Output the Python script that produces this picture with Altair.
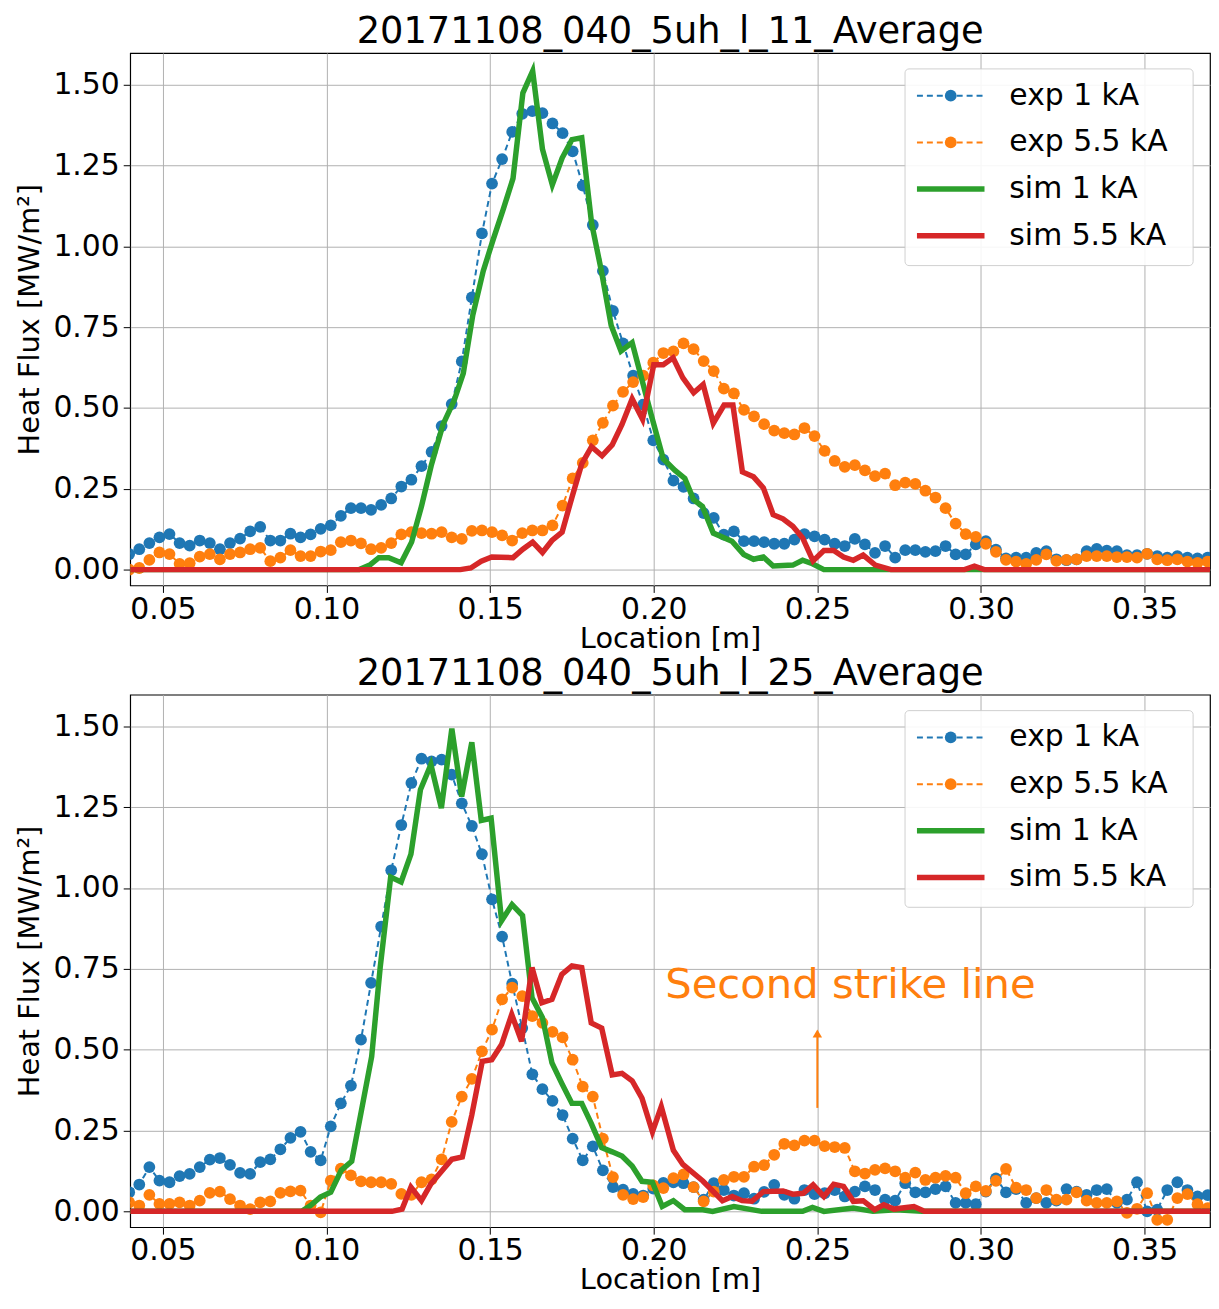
import altair as alt
import pandas as pd

# experimental sampling grid (m)
x0, dx = 0.0397, 0.00308

# ---- panel 1: 20171108_040_5uh_l_11_Average ----
exp1_top = [0.048, 0.063, 0.082, 0.10, 0.11, 0.082, 0.074, 0.09, 0.082, 0.063, 0.082, 0.096, 0.118, 0.132,
            0.09, 0.09, 0.111, 0.10, 0.109, 0.126, 0.137, 0.166, 0.19, 0.19, 0.185, 0.20, 0.22, 0.257, 0.278,
            0.32, 0.364, 0.444, 0.512, 0.644, 0.842, 1.04, 1.194, 1.27, 1.354, 1.41, 1.418, 1.412, 1.38, 1.35,
            1.294, 1.188, 1.066, 0.924, 0.80, 0.70, 0.60, 0.51, 0.40, 0.34, 0.275,
            0.256, 0.22, 0.175, 0.16, 0.108, 0.118, 0.088, 0.088, 0.085, 0.08, 0.08, 0.093, 0.11, 0.103, 0.093,
            0.08, 0.073, 0.095, 0.078, 0.052, 0.073, 0.037, 0.06, 0.06, 0.055, 0.057, 0.073, 0.047, 0.047, 0.078,
            0.088, 0.062, 0.035, 0.037, 0.037, 0.052, 0.057, 0.032, 0.029, 0.032, 0.057, 0.064, 0.059, 0.057,
            0.045, 0.045, 0.049, 0.042, 0.037, 0.042, 0.037, 0.035, 0.037]
exp55_top = [0.0, 0.005, 0.03, 0.053, 0.048, 0.018, 0.02, 0.04, 0.048, 0.032, 0.048, 0.053, 0.063, 0.067,
             0.026, 0.037, 0.06, 0.042, 0.042, 0.056, 0.06, 0.085, 0.09, 0.081, 0.063, 0.067, 0.082, 0.109,
             0.116, 0.113, 0.111, 0.116, 0.10, 0.095, 0.12, 0.121, 0.116, 0.106, 0.09, 0.113, 0.121, 0.121,
             0.137, 0.198, 0.282, 0.33, 0.40, 0.454, 0.507, 0.55, 0.58, 0.60, 0.64, 0.67, 0.675,
             0.70, 0.682, 0.645, 0.614, 0.56, 0.545, 0.494, 0.474, 0.45, 0.43, 0.422, 0.418, 0.438, 0.413,
             0.367, 0.336, 0.318, 0.323, 0.307, 0.289, 0.297, 0.261, 0.269, 0.265, 0.244, 0.223, 0.19, 0.142,
             0.11, 0.101, 0.08, 0.055, 0.03, 0.025, 0.018, 0.03, 0.047, 0.027, 0.03, 0.032, 0.042, 0.042,
             0.042, 0.039, 0.039, 0.037, 0.049, 0.032, 0.029, 0.032, 0.025, 0.021, 0.025]
sim1_top_x = [0.04, 0.110, 0.1132, 0.116, 0.119, 0.1228, 0.126, 0.129, 0.132, 0.1356, 0.139, 0.1418, 0.1447,
              0.1479, 0.1509, 0.154, 0.157, 0.160, 0.163, 0.166, 0.169, 0.172, 0.175, 0.178, 0.181, 0.184,
              0.187, 0.190, 0.1934, 0.1993, 0.2029, 0.2065, 0.2095, 0.2122, 0.2149, 0.2182, 0.2239, 0.2275,
              0.2305, 0.2335, 0.2365, 0.2425, 0.2455, 0.2485, 0.252, 0.37]
sim1_top_y = [0.0, 0.0, 0.014, 0.037, 0.037, 0.021, 0.085, 0.195, 0.322, 0.449, 0.523, 0.607, 0.787, 0.924,
              1.02, 1.114, 1.21, 1.474, 1.542, 1.30, 1.19, 1.273, 1.33, 1.336, 1.072, 0.924, 0.755, 0.676,
              0.702, 0.476, 0.343, 0.307, 0.282, 0.216, 0.195, 0.113, 0.088, 0.047, 0.032, 0.039, 0.011,
              0.014, 0.029, 0.018, 0.0, 0.0]
sim55_top_x = [0.04, 0.1409, 0.1441, 0.1473, 0.1505, 0.157, 0.160, 0.163, 0.166, 0.1689, 0.172, 0.1751, 0.178,
               0.181, 0.1842, 0.1873, 0.1903, 0.1934, 0.1966, 0.200, 0.2029, 0.2059, 0.2089, 0.2122, 0.2151,
               0.2182, 0.2215, 0.2242, 0.2271, 0.2305, 0.2335, 0.2365, 0.2395, 0.2425, 0.2455, 0.2487, 0.252,
               0.255, 0.258, 0.261, 0.264, 0.2677, 0.2725, 0.295, 0.298, 0.301, 0.37]
sim55_top_y = [0.0, 0.0, 0.005, 0.026, 0.039, 0.037, 0.063, 0.085, 0.053, 0.09, 0.116, 0.227, 0.327, 0.38,
               0.352, 0.386, 0.449, 0.528, 0.465, 0.634, 0.634, 0.655, 0.593, 0.547, 0.573, 0.453, 0.509,
               0.509, 0.302, 0.287, 0.253, 0.17, 0.157, 0.134, 0.098, 0.027, 0.059, 0.059, 0.039, 0.029,
               0.045, 0.014, 0.0, 0.0, 0.011, 0.0, 0.0]

# ---- panel 2: 20171108_040_5uh_l_25_Average ----
exp1_bot = [0.059, 0.083, 0.137, 0.095, 0.09, 0.109, 0.116, 0.137, 0.16, 0.165, 0.144, 0.119, 0.116, 0.152,
            0.161, 0.192, 0.227, 0.246, 0.184, 0.158, 0.263, 0.334, 0.389, 0.531, 0.707, 0.881, 1.055, 1.195,
            1.325, 1.40, 1.392, 1.397, 1.351, 1.262, 1.192, 1.105, 0.965, 0.85, 0.704, 0.567, 0.424, 0.378,
            0.342, 0.298, 0.225, 0.158, 0.201, 0.127, 0.075, 0.067, 0.054, 0.049, 0.07, 0.088, 0.09,
            0.087, 0.075, 0.036, 0.087, 0.066, 0.049, 0.056, 0.039, 0.06, 0.082, 0.051, 0.039, 0.066, 0.053,
            0.056, 0.066, 0.046, 0.061, 0.077, 0.066, 0.036, 0.033, 0.087, 0.059, 0.059, 0.069, 0.077, 0.026,
            0.026, 0.022, 0.061, 0.102, 0.059, 0.069, 0.026, 0.041, 0.026, 0.033, 0.069, 0.061, 0.051, 0.066,
            0.069, 0.026, 0.036, 0.09, 0.0, 0.005, 0.066, 0.09, 0.066, 0.046, 0.05]
exp55_bot = [0.028, 0.018, 0.051, 0.023, 0.023, 0.028, 0.018, 0.033, 0.057, 0.061, 0.038, 0.018, 0.007, 0.028,
             0.031, 0.057, 0.062, 0.064, 0.018, -0.003, 0.095, 0.132, 0.111, 0.093, 0.09, 0.09, 0.085, 0.054,
             0.051, 0.09, 0.099, 0.161, 0.277, 0.355, 0.41, 0.495, 0.562, 0.656, 0.692, 0.666, 0.604, 0.583,
             0.555, 0.538, 0.469, 0.386, 0.355, 0.225, 0.106, 0.051, 0.038, 0.044, 0.08, 0.072, 0.103,
             0.114, 0.075, 0.031, 0.061, 0.097, 0.107, 0.107, 0.138, 0.143, 0.175, 0.209, 0.204, 0.219, 0.219,
             0.202, 0.199, 0.196, 0.124, 0.117, 0.128, 0.133, 0.124, 0.104, 0.12, 0.097, 0.104, 0.11, 0.104,
             0.056, 0.077, 0.063, 0.094, 0.131, 0.073, 0.066, 0.041, 0.066, 0.036, 0.036, 0.059, 0.033, 0.026,
             0.026, 0.031, -0.005, 0.008, 0.056, -0.026, -0.026, 0.041, 0.053, 0.022, 0.010]
sim1_bot_x = [0.04, 0.0924, 0.0951, 0.0981, 0.1013, 0.1045, 0.1077, 0.1106, 0.1138, 0.1164, 0.1196, 0.1228,
              0.1258, 0.1287, 0.1319, 0.1351, 0.1383, 0.1413, 0.1444, 0.1473, 0.1503, 0.1535, 0.1567, 0.1599,
              0.1628, 0.166, 0.1689, 0.1719, 0.175, 0.178, 0.1809, 0.1841, 0.1873, 0.1903, 0.1934, 0.1964,
              0.1996, 0.2026, 0.206, 0.2095, 0.215, 0.218, 0.2245, 0.233, 0.2455, 0.2485, 0.252, 0.261,
              0.267, 0.274, 0.282, 0.37]
sim1_bot_y = [0.0, 0.0, 0.018, 0.044, 0.059, 0.127, 0.155, 0.308, 0.479, 0.754, 1.034, 1.019, 1.105, 1.304,
              1.382, 1.247, 1.493, 1.283, 1.451, 1.209, 1.216, 0.899, 0.949, 0.915, 0.661, 0.599, 0.459,
              0.396, 0.334, 0.334, 0.272, 0.197, 0.184, 0.171, 0.14, 0.093, 0.09, 0.015, 0.033, 0.005,
              0.005, 0.0, 0.015, 0.0, 0.0, 0.012, 0.0, 0.01, 0.0, 0.005, 0.0, 0.0]
sim55_bot_x = [0.04, 0.120, 0.1231, 0.1258, 0.129, 0.1319, 0.1351, 0.1383, 0.1415, 0.1444, 0.1476, 0.1505,
               0.1535, 0.1566, 0.1596, 0.1628, 0.1658, 0.1689, 0.1719, 0.175, 0.178, 0.1809, 0.1841, 0.1873,
               0.1903, 0.1934, 0.1964, 0.1996, 0.2023, 0.206, 0.2089, 0.215, 0.221, 0.224, 0.227, 0.230,
               0.2335, 0.2395, 0.2425, 0.2457, 0.2487, 0.252, 0.255, 0.258, 0.261, 0.264, 0.2675, 0.2703,
               0.2734, 0.2795, 0.2827, 0.37]
sim55_bot_y = [0.0, 0.0, 0.007, 0.075, 0.033, 0.085, 0.123, 0.161, 0.168, 0.298, 0.464, 0.469, 0.516, 0.609,
               0.526, 0.754, 0.645, 0.656, 0.733, 0.759, 0.754, 0.583, 0.567, 0.422, 0.427, 0.404, 0.35,
               0.246, 0.324, 0.189, 0.145, 0.094, 0.033, 0.046, 0.033, 0.031, 0.061, 0.063, 0.053, 0.056,
               0.082, 0.046, 0.084, 0.077, 0.031, 0.033, 0.005, 0.02, 0.007, 0.015, 0.0, 0.0]

series = ["exp 1 kA", "exp 5.5 kA", "sim 1 kA", "sim 5.5 kA"]
colors = ["#1f77b4", "#ff7f0e", "#2ca02c", "#d62728"]
titles = ["20171108_040_5uh_l_11_Average", "20171108_040_5uh_l_25_Average"]

W, H = 1087, 536
FONT = "DejaVu Sans"
xscale = alt.Scale(domain=[0.04, 0.37], nice=False, zero=False)
yscale = alt.Scale(domain=[-0.049, 1.598], nice=False, zero=False)
cscale = alt.Scale(domain=series, range=colors)


def exp_df(vals, name):
    return pd.DataFrame({"x": [x0 + dx * i for i in range(len(vals))], "y": vals, "s": name})


def panel(e1, e55, s1x, s1y, s55x, s55y, title, note=False):
    exp = pd.concat([exp_df(e1, series[0]), exp_df(e55, series[1])])
    sim = pd.concat([pd.DataFrame({"x": s1x, "y": s1y, "s": series[2]}),
                     pd.DataFrame({"x": s55x, "y": s55y, "s": series[3]})])
    X = alt.X("x:Q", scale=xscale, title="Location [m]",
              axis=alt.Axis(values=[0.05, 0.1, 0.15, 0.2, 0.25, 0.3, 0.35], format=".2f"))
    Y = alt.Y("y:Q", scale=yscale, title="Heat Flux [MW/m²]",
              axis=alt.Axis(values=[0, 0.25, 0.5, 0.75, 1.0, 1.25, 1.5], format=".2f"))
    C = alt.Color("s:N", scale=cscale, legend=None)
    base_e = alt.Chart(exp).encode(x=X, y=Y, color=C, detail="s:N")
    lines = base_e.mark_line(strokeDash=[6, 4], strokeWidth=2, clip=True)
    pts = base_e.mark_circle(size=140, opacity=1, clip=True)
    sims = alt.Chart(sim).mark_line(strokeWidth=5.5, clip=True).encode(x=X, y=Y, color=C, detail="s:N")
    layers = [lines, pts, sims]

    # legend box
    box = alt.Chart(pd.DataFrame({"a": [0]})).mark_rect(
        fill="white", stroke="#cccccc", cornerRadius=4, opacity=0.9).encode(
        x=alt.value(780), x2=alt.value(1070), y=alt.value(16), y2=alt.value(214))
    layers.append(box)
    for k, (name, col) in enumerate(zip(series, colors)):
        ry = 43 + 47 * k
        d = pd.DataFrame({"t": [name]})
        if k < 2:
            layers.append(alt.Chart(d).mark_rule(color=col, strokeWidth=2, strokeDash=[6, 4]).encode(
                x=alt.value(792), x2=alt.value(860), y=alt.value(ry)))
            layers.append(alt.Chart(d).mark_circle(color=col, size=140, opacity=1).encode(
                x=alt.value(826), y=alt.value(ry)))
        else:
            layers.append(alt.Chart(d).mark_rule(color=col, strokeWidth=5.5).encode(
                x=alt.value(792), x2=alt.value(860), y=alt.value(ry)))
        layers.append(alt.Chart(d).mark_text(align="left", baseline="middle", fontSize=30, font=FONT).encode(
            x=alt.value(885), y=alt.value(ry), text="t:N"))

    if note:
        ann = pd.DataFrame({"x": [0.25], "y": [0.32], "y2": [0.55], "tx": [0.2035], "ty": [0.70],
                            "t": ["Second strike line"]})
        layers.append(alt.Chart(ann).mark_rule(color="#ff7f0e", strokeWidth=2).encode(
            x=alt.X("x:Q", scale=xscale), y=alt.Y("y:Q", scale=yscale), y2="y2:Q"))
        layers.append(alt.Chart(ann).mark_point(shape="triangle-up", filled=True, color="#ff7f0e",
                                                size=90, opacity=1).encode(
            x=alt.X("x:Q", scale=xscale), y=alt.Y("y2:Q", scale=yscale)))
        layers.append(alt.Chart(ann).mark_text(align="left", baseline="middle", fontSize=42, font=FONT,
                                               color="#ff7f0e").encode(
            x=alt.X("tx:Q", scale=xscale), y=alt.Y("ty:Q", scale=yscale), text="t:N"))

    return alt.layer(*layers).properties(
        width=W, height=H,
        title=alt.TitleParams(title, fontSize=37, font=FONT, fontWeight="normal", offset=2))


top = panel(exp1_top, exp55_top, sim1_top_x, sim1_top_y, sim55_top_x, sim55_top_y, titles[0])
bot = panel(exp1_bot, exp55_bot, sim1_bot_x, sim1_bot_y, sim55_bot_x, sim55_bot_y, titles[1], note=True)

chart = alt.vconcat(top, bot, spacing=0).properties(
    padding={"left": 7, "top": 0, "right": 0, "bottom": 0}
).configure_view(stroke="black", strokeWidth=1.2).configure_axis(
    labelFont=FONT, titleFont=FONT, labelFontSize=30, titleFontSize=29, titleFontWeight="normal",
    labelColor="black", titleColor="black", grid=True, gridColor="#b0b0b0", gridWidth=1,
    domain=False, tickColor="black", tickSize=7, labelPadding=2, titlePadding=0,
).configure_axisY(titlePadding=8, labelPadding=4)

chart.save("out.html", embed_options={"renderer": "svg", "actions": False})
